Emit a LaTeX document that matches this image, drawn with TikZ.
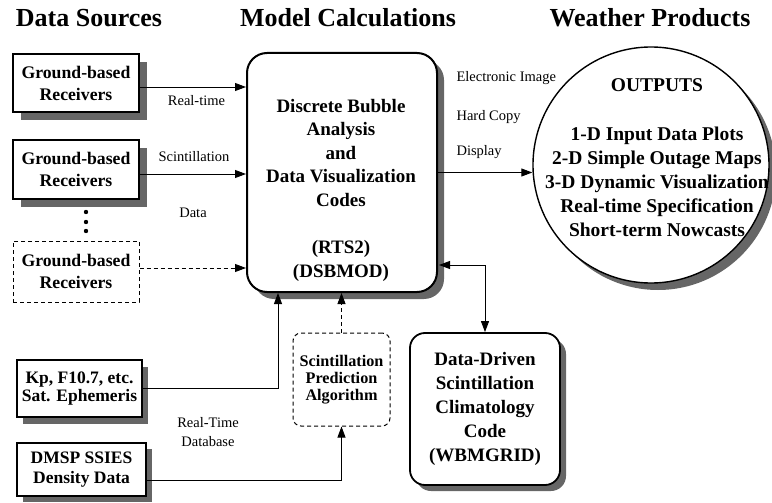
\documentclass[tikz,border=0pt]{standalone}
\usepackage{fontspec}
\setmainfont{Liberation Serif}
\usetikzlibrary{arrows.meta,calc}
\begin{document}
\begin{tikzpicture}[x=1pt,y=-1pt,
  shadowfill/.style={fill=black!60},
  srcbox/.style={draw,fill=white,line width=1.6pt,inner sep=0pt,align=center,
    font=\bfseries\fontsize{17.7}{22}\selectfont},
  title/.style={font=\bfseries\fontsize{26}{30}\selectfont,anchor=base},
  lbl/.style={font=\fontsize{14.5}{18}\selectfont},
  dashline/.style={dashed,dash pattern=on 4pt off 3pt},
  arr/.style={line width=0.9pt,-{Triangle[length=11pt,width=8pt]}},
  arrtwo/.style={line width=0.9pt,{Triangle[length=11pt,width=8pt]}-{Triangle[length=11pt,width=8pt]}},
]
\useasboundingbox (0,0) rectangle (772,503);

% shadows (drawn first, behind the shapes)
\fill[shadowfill] (21,62) rectangle (147,120);
\fill[shadowfill] (21,148) rectangle (147,207);
\fill[shadowfill] (23,366.5) rectangle (148,423.5);
\fill[shadowfill] (23,449) rectangle (152,502);
\fill[shadowfill,rounded corners=20pt] (254,60) rectangle (444,299);
\fill[shadowfill,rounded corners=15pt] (416,339) rectangle (566,491);
\fill[shadowfill] (658,172) circle (118);

% titles
\node[title] (t1) at (89,27) {Data Sources};
\node[title] (t2) at (348,27) {Model Calculations};
\node[title] (t3) at (650,27) {Weather Products};

% source boxes
\node[srcbox,minimum width=126pt,minimum height=58pt] (b1) at (76,83) {Ground-based\\Receivers};
\node[srcbox,minimum width=126pt,minimum height=59pt] (b2) at (76,169.5) {Ground-based\\Receivers};
\node[srcbox,line width=1pt,dashline,minimum width=126pt,minimum height=61pt] (b3) at (76,271.5) {Ground-based\\Receivers};
\fill (86,212) circle (2.2) (86,222) circle (2.2) (86,231) circle (2.2);

\node[srcbox,minimum width=125pt,minimum height=57pt,font=\bfseries\fontsize{17.5}{18.5}\selectfont] (kp) at (79.5,388.5) {Kp, F10.7, etc.\\Sat. Ephemeris};
\node[srcbox,minimum width=129pt,minimum height=53pt,font=\bfseries\fontsize{17.5}{20}\selectfont] (dm) at (81.5,469.5) {DMSP SSIES\\Density Data};

% main box
\node[draw,fill=white,line width=2pt,rounded corners=20pt,minimum width=190pt,minimum height=239pt] (main) at (342,172.5) {};
\node[align=center,font=\bfseries\fontsize{19}{23.5}\selectfont] (maintext) at (341,190) {Discrete Bubble\\Analysis\\and\\Data Visualization\\Codes\\[24pt](RTS2)\\(DSBMOD)};

% scintillation prediction
\node[draw,line width=1pt,dashline,rounded corners=8pt,minimum width=97pt,minimum height=93pt,align=center,inner sep=0pt,font=\bfseries\fontsize{16.2}{16.8}\selectfont] (spa) at (341.5,379.5) {Scintillation\\Prediction\\Algorithm};

% data-driven
\node[draw,fill=white,line width=1.8pt,rounded corners=15pt,minimum width=150pt,minimum height=152pt,align=center,inner sep=0pt,font=\bfseries\fontsize{19}{24.2}\selectfont] (dd) at (485,409) {Data-Driven\\Scintillation\\Climatology\\Code\\(WBMGRID)};

% outputs circle
\node[draw,fill=white,circle,line width=1.4pt,minimum size=236pt,inner sep=0pt] (out) at (651,165) {};
\node[align=center,font=\bfseries\fontsize{19.5}{24.2}\selectfont] (outtext) at (657,158) {OUTPUTS\\[24pt]1-D Input Data Plots\\2-D Simple Outage Maps\\3-D Dynamic Visualization\\Real-time Specification\\Short-term Nowcasts};

% labels
\node[lbl] (l1) at (196.5,101) {Real-time};
\node[lbl] (l2) at (194,157) {Scintillation};
\node[lbl] (l3) at (193,213) {Data};
\node[lbl] (l4) at (208,423) {Real-Time};
\node[lbl] (l5) at (208,442) {Database};
\node[lbl,anchor=west] (l6) at (453,78) {Electronic Image};
\node[lbl,anchor=west] (l7) at (453,117) {Hard Copy};
\node[lbl,anchor=west] (l8) at (453,152) {Display};

% connectors
\draw[arr] ($(b1.east)+(0,4)$) -- ($(b1.east -| main.west)+(0,4)$);
\draw[arr] ($(b2.east)+(0,4.5)$) -- ($(b2.east -| main.west)+(0,4.5)$);
\draw[arr,dashline] ($(b3.east)+(0,-3.5)$) -- ($(b3.east -| main.west)+(0,-3.5)$);
\draw[arr] (kp.east) -| ($(main.south)+(-64,0)$);
\draw[arr] ($(dm.east)+(0,10.5)$) -| (spa.south);
\draw[arr,dashline] (spa.north) -- (spa.north |- main.south);
\draw[arr] (main.east) -- (main.east -| out.west);
\coordinate (mr) at (439,265);
\draw[arrtwo] (mr) -| (dd.north);
\end{tikzpicture}
\end{document}
